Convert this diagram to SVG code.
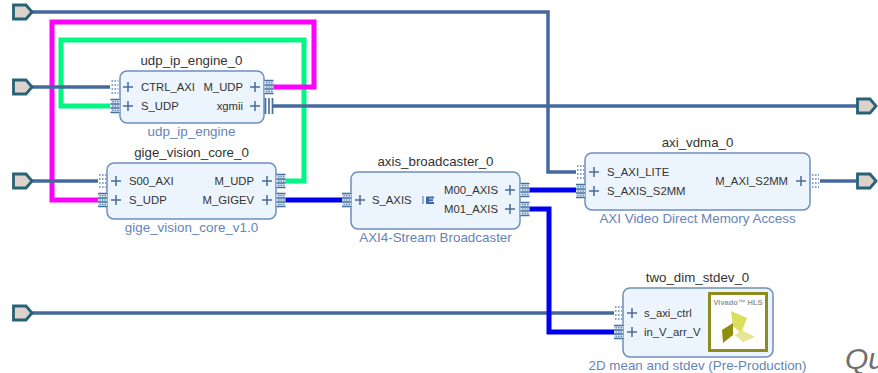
<svg xmlns="http://www.w3.org/2000/svg" width="878" height="373" viewBox="0 0 878 373">
<style>
text{font-family:"Liberation Sans",Arial,sans-serif}
.box{fill:#ecf4fd;stroke:#6d8dbd;stroke-width:1.5}
.name{font-size:13.300px;fill:#333;text-anchor:middle}
.type{font-size:13.400px;fill:#6584b8;text-anchor:middle}
.pin{font-size:11.300px;fill:#333}
.end{text-anchor:end}
.plus{fill:none;stroke:#4a6a9c;stroke-width:1.5}
.w{fill:none;stroke-linejoin:miter}
.bus{stroke:#45689f;stroke-width:3.500}
.blue{stroke:#0000f0;stroke-width:5}
.mag{stroke:#ff00ff;stroke-width:5}
.grn{stroke:#00f882;stroke-width:5}
.ext{fill:#dcd2cb;stroke:#276277;stroke-width:2.800}
</style>
<defs>
<path id="plus" class="plus" d="M-5 0H5M0 -5V5"/>
<g id="solid"><rect x="0" y="-7" width="9" height="14" fill="#dbe6f4"/><path d="M0 -6.500H9M0 -2H9M0 2H9M0 6.500H9" stroke="#44709f" stroke-width="1.500"/><path d="M1.500 -4.200H8M1.500 0H8M1.500 4.200H8" stroke="#44709f" stroke-width="1.100" stroke-dasharray="1.500 1"/></g>
<g id="dots"><path d="M1 -6H8M1 -2H8M1 2H8M1 6H8" stroke="#5f88b8" stroke-width="1.400" stroke-dasharray="1.600 1.400"/></g>
<g id="vbars"><path d="M1 -8V8M4.500 -8V8M8 -8V8" stroke="#44709f" stroke-width="1.700"/></g>
<path id="inp" class="ext" d="M13.500 -7H26L32 0L26 7H13.500Z"/>
<path id="outp" class="ext" d="M857.500 -7H870L876 0L870 7H857.500Z"/>
</defs>
<g id="connectors">
<path class="w grn" d="M285 181H304V40H61V106H110"/>
<path class="w bus" d="M273 106H858"/>
<path class="w mag" d="M273 87H314V22H52V200H98"/>
<path class="w bus" d="M32 12H548V172H576"/>
<path class="w bus" d="M32 87H110"/>
<path class="w bus" d="M32 181H98"/>
<path class="w bus" d="M32 313H614"/>
<path class="w bus" d="M820 181H858"/>
<path class="w blue" d="M285 200H342"/>
<path class="w blue" d="M529 190H576"/>
<path class="w blue" d="M529 209H549V332H614"/>
</g>
<g id="ext_port_0"><use href="#inp" y="12"/></g>
<g id="ext_port_1"><use href="#inp" y="87"/></g>
<g id="ext_port_2"><use href="#inp" y="181"/></g>
<g id="ext_port_3"><use href="#inp" y="313"/></g>
<g id="ext_port_4"><use href="#outp" y="106"/></g>
<g id="ext_port_5"><use href="#outp" y="181"/></g>
<g id="udp_ip_engine_0">
<text class="name" x="191.500" y="65">udp_ip_engine_0</text>
<rect class="box" x="120" y="71" width="144" height="52" rx="7"/>
<use href="#dots" x="110.500" y="87"/><use href="#solid" x="110.500" y="106"/>
<use href="#solid" x="264.500" y="87"/><use href="#vbars" x="264.500" y="106"/>
<use href="#plus" x="128" y="87"/><use href="#plus" x="128" y="106"/>
<use href="#plus" x="255" y="87"/><use href="#plus" x="255" y="106"/>
<text class="pin" x="141" y="91">CTRL_AXI</text><text class="pin" x="141" y="110">S_UDP</text>
<text class="pin end" x="243" y="91">M_UDP</text><text class="pin end" x="243" y="110">xgmii</text>
<text class="type" x="191.500" y="136">udp_ip_engine</text>
</g>
<g id="gige_vision_core_0">
<text class="name" x="191.500" y="157">gige_vision_core_0</text>
<rect class="box" x="107" y="163" width="169" height="56" rx="7"/>
<use href="#dots" x="98" y="181"/><use href="#solid" x="98" y="200"/>
<use href="#solid" x="276.500" y="181"/><use href="#solid" x="276.500" y="200"/>
<use href="#plus" x="116" y="181"/><use href="#plus" x="116" y="200"/>
<use href="#plus" x="267" y="181"/><use href="#plus" x="267" y="200"/>
<text class="pin" x="129" y="185">S00_AXI</text><text class="pin" x="129" y="204">S_UDP</text>
<text class="pin end" x="254" y="185">M_UDP</text><text class="pin end" x="254" y="204">M_GIGEV</text>
<text class="type" x="191.500" y="232">gige_vision_core_v1.0</text>
</g>
<g id="axis_broadcaster_0">
<text class="name" x="435.500" y="166">axis_broadcaster_0</text>
<rect class="box" x="351" y="172" width="169" height="57" rx="7"/>
<use href="#solid" x="342" y="200"/>
<use href="#solid" x="520.500" y="190"/><use href="#solid" x="520.500" y="209"/>
<use href="#plus" x="360" y="200"/>
<use href="#plus" x="510" y="190"/><use href="#plus" x="510" y="209"/>
<text class="pin" x="372" y="204">S_AXIS</text>
<text class="pin end" x="498" y="194">M00_AXIS</text><text class="pin end" x="498" y="213">M01_AXIS</text>
<path d="M423 196V204" stroke="#3c6aa8" stroke-width="1" fill="none"/>
<path d="M426 196.500H434V198.500H429V199.300H433V201.200H429V202H434V204H426Z" fill="#3c6aa8"/>
<text class="type" x="435.500" y="242">AXI4-Stream Broadcaster</text>
</g>
<g id="axi_vdma_0">
<text class="name" x="697.500" y="147">axi_vdma_0</text>
<rect class="box" x="585" y="153" width="225" height="57" rx="7"/>
<use href="#dots" x="576" y="172"/><use href="#solid" x="576" y="191"/>
<use href="#dots" x="811" y="181"/>
<use href="#plus" x="594" y="172"/><use href="#plus" x="594" y="191"/>
<use href="#plus" x="801" y="181"/>
<text class="pin" x="607" y="176">S_AXI_LITE</text><text class="pin" x="607" y="195">S_AXIS_S2MM</text>
<text class="pin end" x="788" y="185">M_AXI_S2MM</text>
<text class="type" x="697.500" y="223">AXI Video Direct Memory Access</text>
</g>
<g id="two_dim_stdev_0">
<text class="name" x="697.500" y="282">two_dim_stdev_0</text>
<rect class="box" x="623" y="288" width="150" height="69" rx="7"/>
<use href="#dots" x="614" y="313"/><use href="#solid" x="614" y="332"/>
<use href="#plus" x="632" y="313"/><use href="#plus" x="632" y="332"/>
<text class="pin" x="644" y="317">s_axi_ctrl</text><text class="pin" x="644" y="336">in_V_arr_V</text>
<rect x="709.500" y="293.500" width="57" height="57" fill="#ffffff" stroke="#8c8c20" stroke-width="3"/>
<text x="738" y="305" font-size="7.500" font-weight="700" fill="#999" text-anchor="middle">Vivado™ HLS</text>
<path d="M731 311L747 318L741 333L733 326Z" fill="#dcdc5f"/>
<path d="M722 330L733 323V335L723 343Z" fill="#8f8f0f"/>
<path d="M735 335L742 330L755 337L743 342Z" fill="#e6e696"/>
<text class="type" x="697.500" y="370">2D mean and stdev (Pre-Production)</text>
</g>
<text x="845" y="369" font-size="30" font-style="italic" fill="#707070">Qu</text>
</svg>
